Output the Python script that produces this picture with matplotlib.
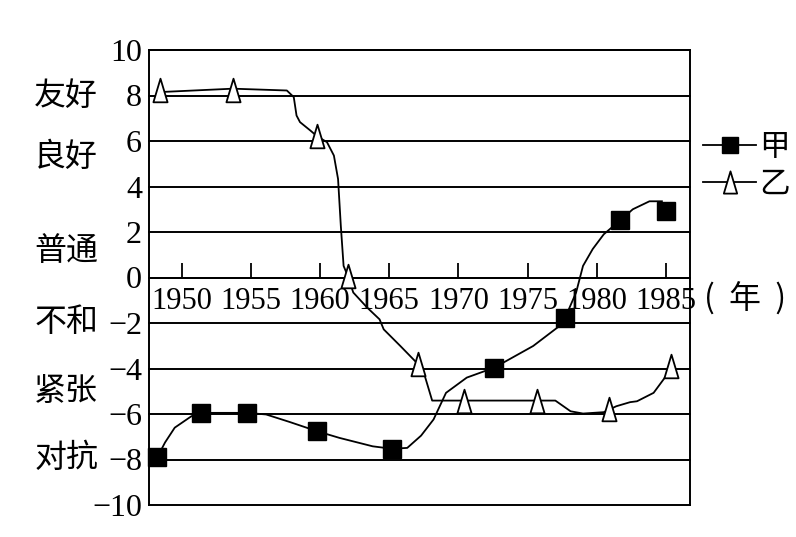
import matplotlib
matplotlib.use("Agg")
import matplotlib.pyplot as plt
from matplotlib.path import Path

# ---- data ----
years = [1950, 1955, 1960, 1965, 1970, 1975, 1980, 1985]
y_ticks = [-10, -8, -6, -4, -2, 0, 2, 4, 6, 8, 10]
y_tick_labels = ["\u221210", "\u22128", "\u22126", "\u22124", "\u22122", "0", "2", "4", "6", "8", "10"]

level_names = ["友好", "良好", "普通", "不和", "紧张", "对抗"]
level_pos = [8.0, 5.3, 1.15, -1.97, -5.0, -7.95]

# 甲 (black squares): marker positions
jia_x = [1948.2, 1951.4, 1954.7, 1959.8, 1965.2, 1972.6, 1977.7, 1981.7, 1985.0]
jia_y = [-7.89, -5.95, -5.95, -6.76, -7.53, -3.96, -1.79, 2.52, 2.91]
# 甲 drawn curve
jia_cx = [1948.5, 1948.8, 1949.5, 1950.7, 1951.4, 1954.7, 1956.1, 1957.8, 1959.8, 1961.4,
          1963.8, 1965.2, 1966.3, 1967.3, 1968.2, 1969.1, 1970.6, 1972.6, 1975.4, 1977.3,
          1977.9, 1978.5, 1979.0, 1979.7, 1980.5, 1981.7, 1982.6, 1983.8, 1984.7]
jia_cy = [-7.6, -7.25, -6.6, -6.1, -5.95, -5.95, -6.02, -6.35, -6.76, -7.05,
          -7.42, -7.53, -7.49, -6.95, -6.24, -5.07, -4.4, -3.96, -3.01, -2.13,
          -1.5, -0.66, 0.51, 1.25, 1.9, 2.52, 3.0, 3.35, 3.35]

# 乙 (white triangles): marker positions
yi_x = [1948.4, 1953.7, 1959.8, 1962.0, 1967.1, 1970.4, 1975.65, 1980.9, 1985.35]
yi_y = [8.25, 8.25, 6.2, 0.07, -3.82, -5.45, -5.45, -5.8, -3.89]
# 乙 drawn curve
yi_cx = [1948.4, 1953.7, 1957.6, 1958.1, 1958.3, 1958.55, 1959.3, 1959.8, 1960.5, 1961.0,
         1961.3, 1961.5, 1961.7, 1962.0, 1962.4, 1963.4, 1964.3, 1964.6, 1965.8, 1967.1,
         1967.5, 1968.1, 1977.0, 1978.1, 1979.0, 1980.5, 1981.4, 1982.4, 1982.9, 1984.1,
         1985.0, 1985.35]
yi_cy = [8.15, 8.3, 8.22, 7.93, 7.12, 6.83, 6.46, 6.2, 5.95, 5.36,
         4.33, 2.27, 0.51, 0.07, -0.66, -1.32, -1.84, -2.28, -3.01, -3.82,
         -4.19, -5.41, -5.41, -5.88, -5.98, -5.92, -5.66, -5.48, -5.44, -5.07,
         -4.33, -3.89]

series_names = ["甲", "乙"]

# ---- styling ----
serif = ["Liberation Serif", "DejaVu Serif"]
cjk = ["Noto Sans CJK SC", "DejaVu Sans"]

W, H = 796, 537
fig = plt.figure(figsize=(W / 100, H / 100), dpi=100)
fig.patch.set_facecolor("white")
L, R, T, B = 149, 690, 50, 505
ax = fig.add_axes([L / W, 1 - B / H, (R - L) / W, (B - T) / H])

ax.set_xlim(1947.64, 1986.73)
ax.set_ylim(-10, 10)

# grid lines
for yv in y_ticks:
    ax.axhline(yv, color="black", lw=1.4, zorder=1, clip_on=False)

for s in ["left", "right", "top"]:
    ax.spines[s].set_linewidth(1.4)
ax.spines["bottom"].set_position(("data", 0))
ax.spines["bottom"].set_linewidth(1.4)

ax.set_yticks(y_ticks)
ax.set_yticklabels(y_tick_labels, fontfamily=serif, fontsize=23)
ax.tick_params(axis="y", length=0, pad=5)

ax.set_xticks(years)
ax.set_xticklabels([str(y) for y in years], fontfamily=serif, fontsize=22)
ax.tick_params(axis="x", direction="in", length=11, width=1.3, pad=7)

# Chinese level labels
ytr = ax.get_yaxis_transform()
for name, pos in zip(level_names, level_pos):
    ax.text(-0.153, pos, name, transform=ytr, ha="center", va="center",
            fontsize=23, family=cjk, fontweight="light", clip_on=False)

# (年)
ax.text(1.025, -0.95, "(  年  )", transform=ytr, ha="left", va="center",
        fontsize=23, family=cjk, fontweight="light", clip_on=False)

# curves
ax.plot(jia_cx, jia_cy, color="black", lw=1.3, zorder=3)
ax.plot(yi_cx, yi_cy, color="black", lw=1.3, zorder=3)

tri = Path([(-0.3, -0.5), (0.3, -0.5), (0.0, 0.5), (-0.3, -0.5)],
           [Path.MOVETO, Path.LINETO, Path.LINETO, Path.CLOSEPOLY])

ax.plot(jia_x, jia_y, ls="none", marker="s", ms=13, mfc="black", mec="black", zorder=4, clip_on=False)
ax.plot(yi_x, yi_y, ls="none", marker=tri, ms=17, mfc="white", mec="black", mew=1.3, zorder=4, clip_on=False)

# legend handles
h1, = ax.plot([], [], color="black", lw=1.3, marker="s", ms=12, mfc="black", mec="black")
h2, = ax.plot([], [], color="black", lw=1.3, marker=tri, ms=16, mfc="white", mec="black", mew=1.3)
leg = fig.legend([h1, h2], series_names, loc="upper left",
                 bbox_to_anchor=(703 / W, 1 - 132 / H), frameon=False,
                 prop={"family": cjk, "size": 22, "weight": "light"},
                 handlelength=1.75, handletextpad=0.1, labelspacing=0.2,
                 borderpad=0, borderaxespad=0, numpoints=1)

fig.savefig("out.png", dpi=100)
